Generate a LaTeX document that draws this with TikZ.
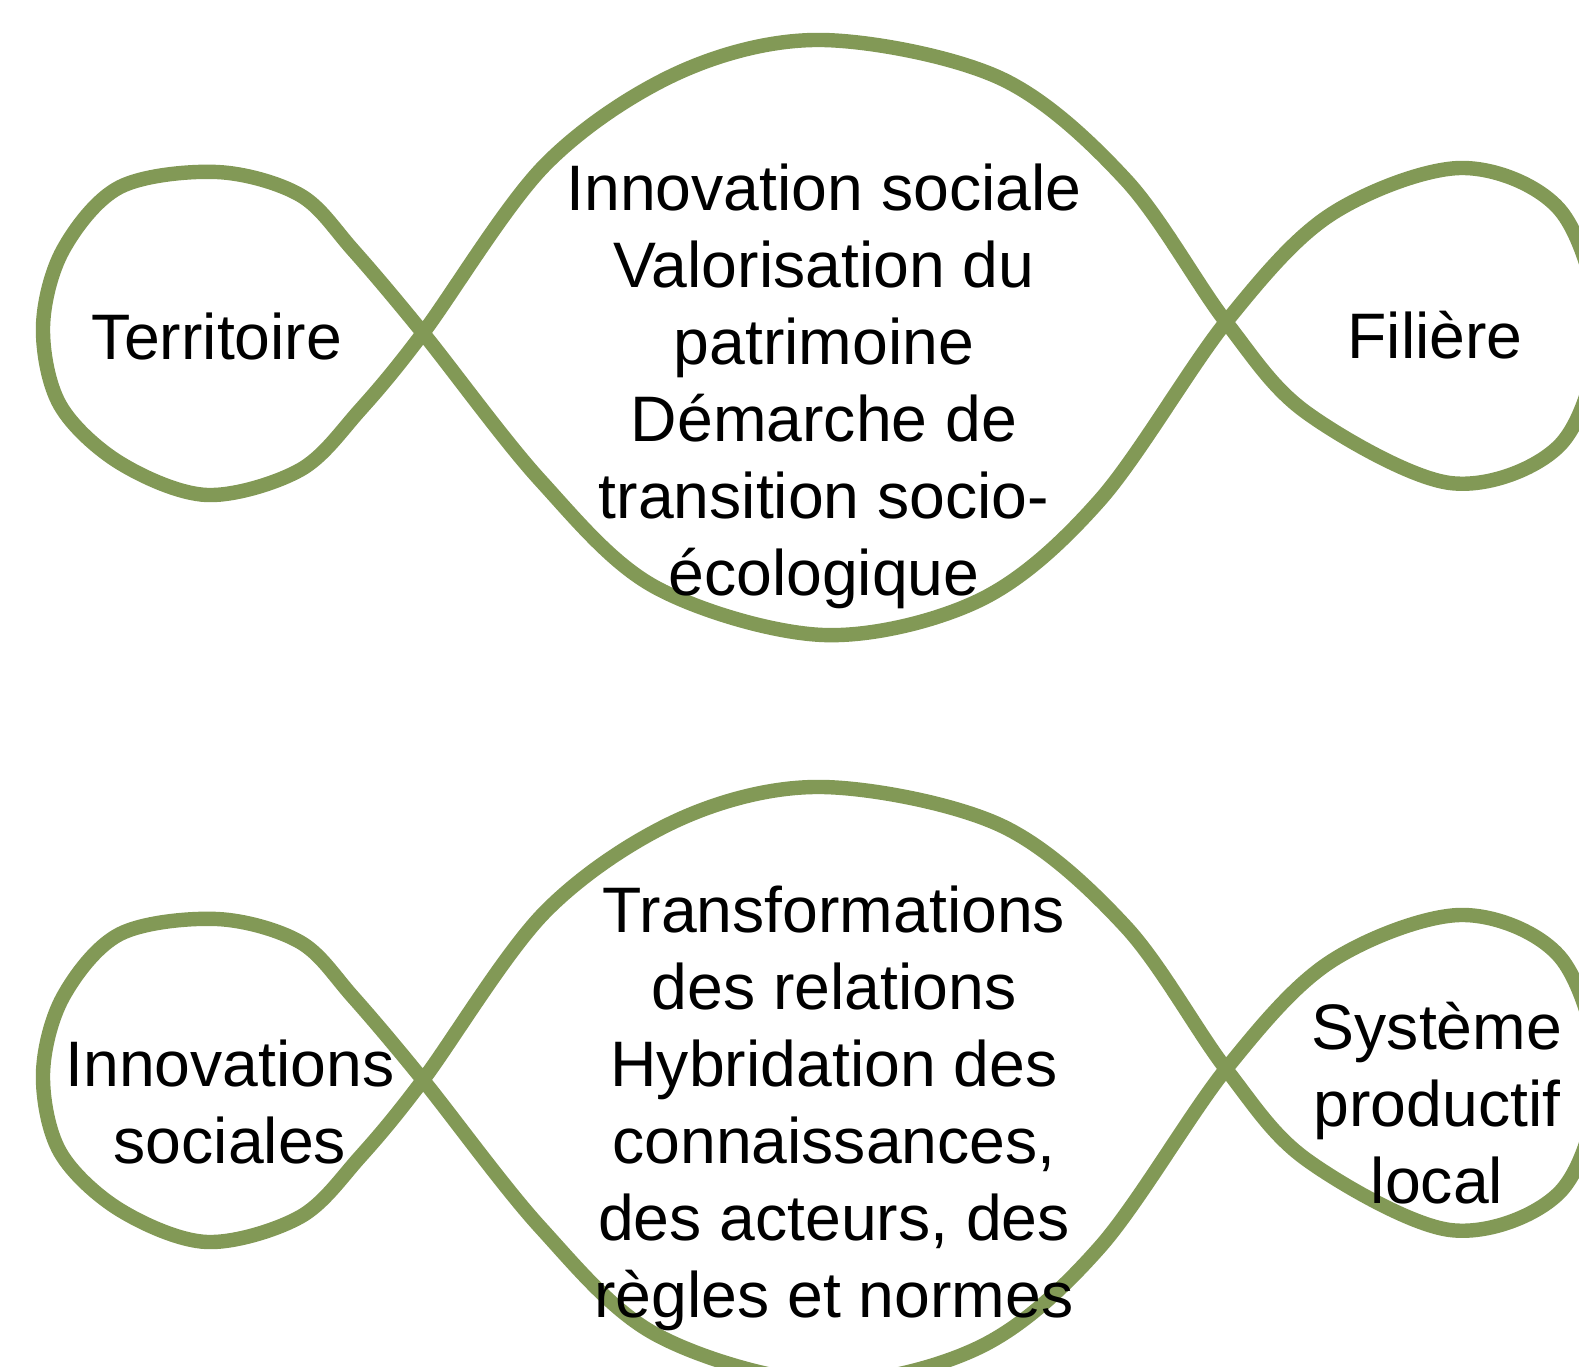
\documentclass[tikz,border=0pt]{standalone}
\usepackage{fontspec}
\setmainfont{Liberation Sans}
\definecolor{olive}{RGB}{130,153,86}
\tikzset{
  infinity/.style={draw=olive,line width=4.1pt,line join=round},
  txt/.style={align=center,inner sep=0pt,font=\fontsize{18.3}{21.9}\selectfont}
}

\begin{document}
\begin{tikzpicture}[x=0.1mm,y=-0.1mm]
       \useasboundingbox (0,0) rectangle (1579,1367);
       \clip (0,0) rectangle (1579,1367);
       % the two loops, the lower one is the upper one moved down
       \foreach \dy in {0,747}
       {
         \draw[infinity,yshift=-\dy*0.1mm] plot[smooth cycle,tension=0.55] coordinates {
           (423,333) (353,250) (300,195) (217,172) (120,187) (63,250) (43,327)
           (60,405) (120,463) (207,495) (300,470) (360,410)
           (423,333) (545,165) (680,72) (823,40) (1000,78) (1126,180)
           (1226,322) (1307,413) (1450,483) (1560,445) (1598,330) (1560,210)
           (1460,168) (1330,215)
           (1226,322) (1100,500) (980,600) (823,635) (655,587) (540,480)};
       }
       \node[txt] (terr) at (217,337) {Territoire};
       \node[txt] (innov) at (824,386) {Innovation sociale\\Valorisation du\\patrimoine\\Démarche de\\transition socio-\\écologique};
       \node[txt] (fil) at (1435,335) {Filière};
       \node[txt] (innovs) at (230,1102) {Innovations\\sociales};
       \node[txt] (transf) at (834,1108) {Transformations\\des relations\\Hybridation des\\connaissances,\\des acteurs, des\\règles et normes};
       \node[txt] (spl) at (1437,1103) {Système\\productif\\local};
     \end{tikzpicture}
\end{document}
